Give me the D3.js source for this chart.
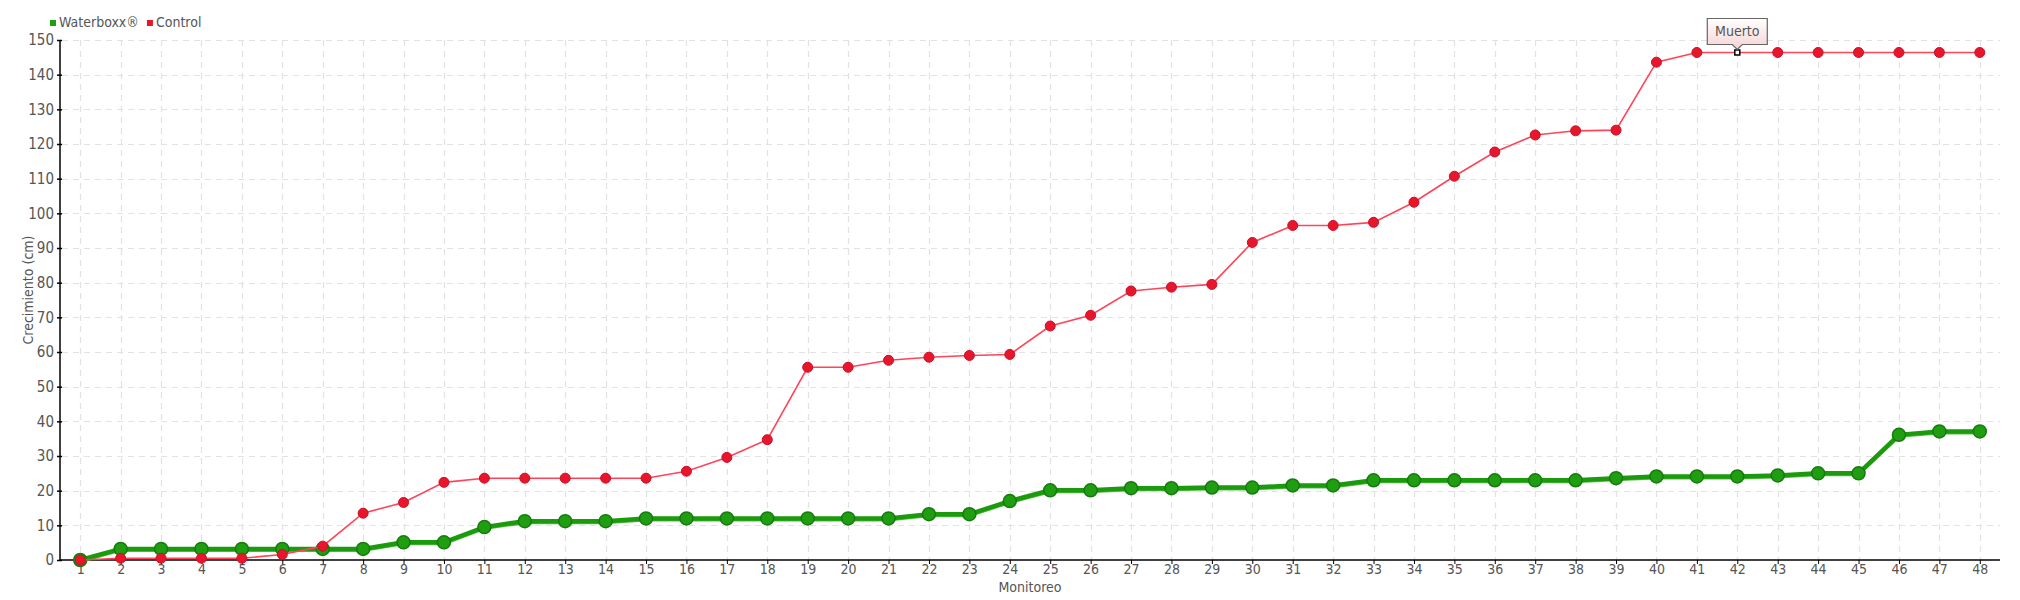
<!DOCTYPE html>
<html>
<head>
<meta charset="utf-8">
<script src="https://cdn.jsdelivr.net/npm/d3@7"></script>
<style>
  html, body { margin: 0; padding: 0; background: #fff; }
  svg { display: block; }
  text { font-family: "Liberation Sans Narrow", "DejaVu Sans Condensed", "Roboto", sans-serif; fill: #555; }
</style>
</head>
<body>
<svg id="chart" width="2020" height="600"></svg>
<script>
const categories = d3.range(1, 49).map(String);
const waterboxx = [0, 3.2, 3.2, 3.2, 3.2, 3.2, 3.2, 3.2, 5.1, 5.1, 9.5, 11.2, 11.2, 11.2, 12.0, 12.0,
  12.0, 12.0, 12.0, 12.0, 12.0, 13.2, 13.2, 17.0, 20.1, 20.1, 20.7, 20.7, 20.9, 20.9, 21.5, 21.5,
  23.0, 23.0, 23.0, 23.0, 23.0, 23.0, 23.6, 24.1, 24.1, 24.1, 24.4, 25.0, 25.0, 36.1, 37.1, 37.1];
const control = [0, 0.5, 0.5, 0.5, 0.5, 1.6, 4.0, 13.5, 16.6, 22.4, 23.6, 23.6, 23.6, 23.6, 23.6, 25.6,
  29.6, 34.7, 55.6, 55.6, 57.6, 58.5, 59.0, 59.3, 67.5, 70.6, 77.6, 78.7, 79.5, 91.6, 96.5, 96.5,
  97.4, 103.2, 110.7, 117.7, 122.6, 123.8, 124.0, 143.6, 146.4, 146.4, 146.4, 146.4, 146.4, 146.4, 146.4, 146.4];
const yTicks = d3.range(0, 151, 10);
const seriesNames = ["Waterboxx®", "Control"];
const annotation = { index: 41, text: "Muerto" };

const svg = d3.select("#chart");
const mLeft = 60, mRight = 2000, mTop = 40, mBottom = 560;

const x = d3.scalePoint().domain(categories).range([mLeft, mRight]).padding(0.5);
const y = d3.scaleLinear().domain([0, 150]).range([mBottom, mTop]);

const defs = svg.append("defs");
const grad = defs.append("linearGradient").attr("id", "tipgrad").attr("x1", 0).attr("y1", 0).attr("x2", 0).attr("y2", 1);
grad.append("stop").attr("offset", "0%").attr("stop-color", "#ffffff");
grad.append("stop").attr("offset", "100%").attr("stop-color", "#f6d2d2");

// grid
const grid = svg.append("g");
grid.selectAll("line.h").data(yTicks.filter(d => d > 0)).enter().append("line")
  .attr("x1", mLeft + 2).attr("x2", mRight)
  .attr("y1", d => Math.round(y(d)) + 0.5).attr("y2", d => Math.round(y(d)) + 0.5)
  .attr("stroke", "#e2e2e2").attr("stroke-width", 1.2).attr("stroke-dasharray", "6,5");
grid.selectAll("line.v").data(categories).enter().append("line")
  .attr("x1", d => Math.round(x(d)) + 0.5).attr("x2", d => Math.round(x(d)) + 0.5)
  .attr("y1", mTop).attr("y2", mBottom)
  .attr("stroke", "#e2e2e2").attr("stroke-width", 1.2).attr("stroke-dasharray", "6,5");

// axes
const yAxis = svg.append("g").attr("transform", `translate(${mLeft},0)`)
  .call(d3.axisLeft(y).tickValues(yTicks).tickSize(3).tickFormat(d3.format("d")));
yAxis.select(".domain").attr("d", `M0,${mTop}V${mBottom}`).attr("stroke", "#000").attr("stroke-width", 1.5);
yAxis.selectAll(".tick line").attr("x2", 2).attr("x1", -3).attr("stroke", "#000").attr("stroke-width", 1.5);
yAxis.selectAll(".tick text").attr("x", -6).style("font-size", "15px").attr("fill", "#555");

const xAxis = svg.append("g").attr("transform", `translate(0,${mBottom})`)
  .call(d3.axisBottom(x).tickSize(4));
xAxis.select(".domain").attr("d", `M${mLeft},0H${mRight}`).attr("stroke", "#000").attr("stroke-width", 1.5);
xAxis.selectAll(".tick line").attr("stroke", "#000");
xAxis.selectAll(".tick text").attr("y", 4).style("font-size", "14px").attr("fill", "#555");

// axis titles
svg.append("text").attr("transform", `translate(33,${(mTop + mBottom) / 2 - 10}) rotate(-90)`)
  .attr("text-anchor", "middle").style("font-size", "14px").text("Crecimiento (cm)");
svg.append("text").attr("x", 1030).attr("y", 592)
  .attr("text-anchor", "middle").style("font-size", "14px").text("Monitoreo");

const line = d3.line().x((d, i) => x(categories[i])).y(d => y(d));

// waterboxx
svg.append("path").datum(waterboxx).attr("d", line).attr("fill", "none")
  .attr("stroke", "#5cc04c").attr("stroke-width", 3).attr("transform", "translate(0,1.5)");
svg.append("path").datum(waterboxx).attr("d", line).attr("fill", "none")
  .attr("stroke", "#1b9a0d").attr("stroke-width", 4.5);
svg.append("g").selectAll("circle").data(waterboxx).enter().append("circle")
  .attr("cx", (d, i) => x(categories[i])).attr("cy", d => y(d)).attr("r", 6.5)
  .attr("fill", "#1e9e10").attr("stroke", "#177a0e").attr("stroke-width", 1.5);

// control
svg.append("path").datum(control).attr("d", line).attr("fill", "none")
  .attr("stroke", "#ff4458").attr("stroke-width", 1.6);
const controlPts = control.map((v, i) => ({ v, i })).filter(d => d.i !== annotation.index);
svg.append("g").selectAll("circle").data(controlPts).enter().append("circle")
  .attr("cx", d => x(categories[d.i])).attr("cy", d => y(d.v)).attr("r", 5)
  .attr("fill", "#e8162a").attr("stroke", "#c8102a").attr("stroke-width", 1);

// annotation marker
const ax = x(categories[annotation.index]), ay = y(control[annotation.index]);
svg.append("rect").attr("x", ax - 2.5).attr("y", ay - 2.5).attr("width", 5).attr("height", 5)
  .attr("fill", "#fff").attr("stroke", "#000").attr("stroke-width", 1.5);

const tw = 60, th = 26, tx = ax - tw / 2, ty = ay - 34;
svg.append("path")
  .attr("d", `M${tx},${ty}H${tx + tw}V${ty + th}H${ax + 5}L${ax},${ty + th + 5}L${ax - 5},${ty + th}H${tx}Z`)
  .attr("fill", "url(#tipgrad)").attr("stroke", "#666").attr("stroke-width", 1.2);
svg.append("text").attr("x", ax).attr("y", ty + th / 2 + 5)
  .attr("text-anchor", "middle").style("font-size", "14px").text(annotation.text);

// legend
const colors = ["#1e9e10", "#e8162a"];
const lg = svg.append("g");
let lx = 50;
seriesNames.forEach((name, i) => {
  lg.append("rect").attr("x", lx).attr("y", 20).attr("width", 6).attr("height", 6).attr("fill", colors[i]);
  const t = lg.append("text").attr("x", lx + 9).attr("y", 27).style("font-size", "14px").text(name);
  lx += 9 + t.node().getComputedTextLength() + 8;
});
</script>
</body>
</html>
